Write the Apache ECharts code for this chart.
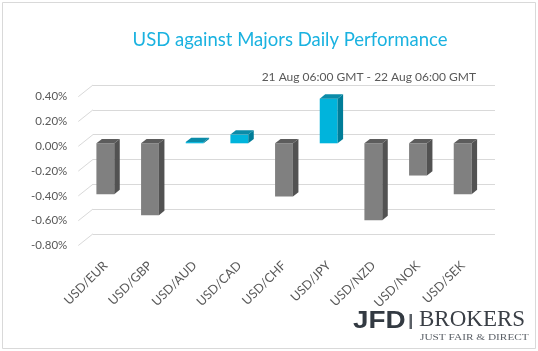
<!DOCTYPE html>
<html>
<head>
<meta charset="utf-8">
<script src="https://cdn.jsdelivr.net/npm/echarts@6/dist/echarts.min.js"></script>
<style>
  html, body { margin: 0; padding: 0; background: #fff; }
  #main { width: 538px; height: 351px; }
</style>
</head>
<body>
<div id="main"></div>
<script>
// daily performance, in %
const pairs = ["USD/EUR", "USD/GBP", "USD/AUD", "USD/CAD", "USD/CHF", "USD/JPY", "USD/NZD", "USD/NOK", "USD/SEK"];
const change = [-0.41, -0.58, 0.01, 0.07, -0.43, 0.36, -0.62, -0.26, -0.41];
const yTicks = [0.4, 0.2, 0, -0.2, -0.4, -0.6, -0.8];

const FONT = "Lato";
const GRAY_TXT = "#595959";

// pseudo 3d: back wall is shifted right/up from the front plane
const front = { left: 78.3, top: 96.7 };
const back = { left: 93, top: 85 };
const depthX = back.left - front.left;
const depthY = back.top - front.top;

const colors = {
  neg: { front: "#808080", side: "#525252", top: "#5c5c5c" },
  pos: { front: "#00b4dc", side: "#007d98", top: "#0a8ba8" }
};

function bar3d(params, api) {
  const i = api.value(0);
  const v = api.value(1);
  const p = api.coord([i, v]);
  const z = api.coord([i, 0]);
  const w = api.size([1, 0])[0] * 0.4;
  const x0 = p[0] - w / 2, x1 = p[0] + w / 2;
  const yt = Math.min(p[1], z[1]), yb = Math.max(p[1], z[1]);
  const dx = 5.5, dy = -4.4;
  const c = v >= 0 ? colors.pos : colors.neg;
  return {
    type: "group",
    children: [
      { type: "rect", shape: { x: x0, y: yt, width: w, height: yb - yt }, style: { fill: c.front } },
      { type: "polygon", shape: { points: [[x1, yt], [x1 + dx, yt + dy], [x1 + dx, yb + dy], [x1, yb]] }, style: { fill: c.side } },
      { type: "polygon", shape: { points: [[x0, yt], [x0 + dx, yt + dy], [x1 + dx, yt + dy], [x1, yt]] }, style: { fill: c.top } }
    ]
  };
}

function diag(params, api) {
  const p = api.coord([0, api.value(0)]);
  return {
    type: "line",
    shape: { x1: p[0], y1: p[1], x2: p[0] + depthX, y2: p[1] + depthY },
    style: { stroke: "#d9d9d9", lineWidth: 1 }
  };
}

const chart = echarts.init(document.getElementById("main"), null, { renderer: "canvas" });

chart.setOption({
  backgroundColor: "#fff",
  animation: false,
  title: [
    {
      text: "USD against Majors Daily Performance",
      left: 285, top: 26, textAlign: "center",
      textStyle: { fontFamily: FONT, fontSize: 18.5, fontWeight: "normal", color: "#1ab2e0" }
    },
    {
      text: "21 Aug 06:00 GMT - 22 Aug 06:00 GMT",
      right: 57, top: 66,
      textStyle: { fontFamily: FONT, fontSize: 12, fontWeight: "normal", color: GRAY_TXT }
    }
  ],
  grid: [
    { left: 83, top: 93.7, width: 402, height: 148.8 },
    { left: back.left, top: back.top, width: 402, height: 149 },
    { left: front.left, top: front.top, width: 402, height: 148.8 }
  ],
  xAxis: [
    {
      gridIndex: 0, type: "category", data: pairs,
      axisLine: { show: false }, axisTick: { show: false },
      axisLabel: { rotate: 45, margin: 21, interval: 0, fontFamily: FONT, fontSize: 12.5, color: GRAY_TXT }
    },
    { gridIndex: 1, type: "value", show: false, min: 0, max: 1 },
    { gridIndex: 2, type: "value", show: false, min: 0, max: 1 }
  ],
  yAxis: [
    { gridIndex: 0, type: "value", min: -0.8, max: 0.4, interval: 0.2, show: false },
    {
      gridIndex: 1, type: "value", min: -0.8, max: 0.4, interval: 0.2,
      axisLine: { show: false }, axisTick: { show: false }, axisLabel: { show: false },
      splitLine: { lineStyle: { color: "#d9d9d9", width: 1 } }
    },
    {
      gridIndex: 2, type: "value", min: -0.8, max: 0.4, interval: 0.2,
      axisLine: { show: false }, axisTick: { show: false }, splitLine: { show: false },
      axisLabel: {
        margin: 11, fontFamily: FONT, fontSize: 11.5, color: GRAY_TXT,
        formatter: v => (Math.abs(v) < 1e-9 ? 0 : v).toFixed(2) + "%"
      }
    }
  ],
  series: [
    {
      type: "custom", xAxisIndex: 2, yAxisIndex: 2,
      data: yTicks.map(v => [v]), encode: { y: 0 },
      renderItem: diag, silent: true, z: 1
    },
    {
      type: "custom", xAxisIndex: 0, yAxisIndex: 0,
      data: change.map((v, i) => [i, v]), encode: { x: 0, y: 1 },
      renderItem: bar3d, z: 5
    }
  ],
  graphic: [
    {
      type: "rect", shape: { x: 2.5, y: 2.5, width: 533, height: 346 },
      style: { fill: null, stroke: "#d9d9d9", lineWidth: 1 }, silent: true
    },
    {
      type: "text", x: 353, y: 309, scaleX: 1.16,
      style: { text: "JFD", font: "bold 24px 'Liberation Sans'", fill: "#333a42" }
    },
    {
      type: "rect", shape: { x: 409.5, y: 314, width: 2.5, height: 15 },
      style: { fill: "#5a5f66" }
    },
    {
      type: "text", x: 419, y: 308,
      style: { text: "BROKERS", font: "23px 'Liberation Serif'", fill: "#3a3f46" }
    },
    {
      type: "text", x: 420, y: 333, scaleX: 1.33,
      style: { text: "JUST FAIR & DIRECT", font: "8.5px 'Liberation Serif'", fill: "#5a5f66" }
    }
  ]
});
</script>
</body>
</html>
